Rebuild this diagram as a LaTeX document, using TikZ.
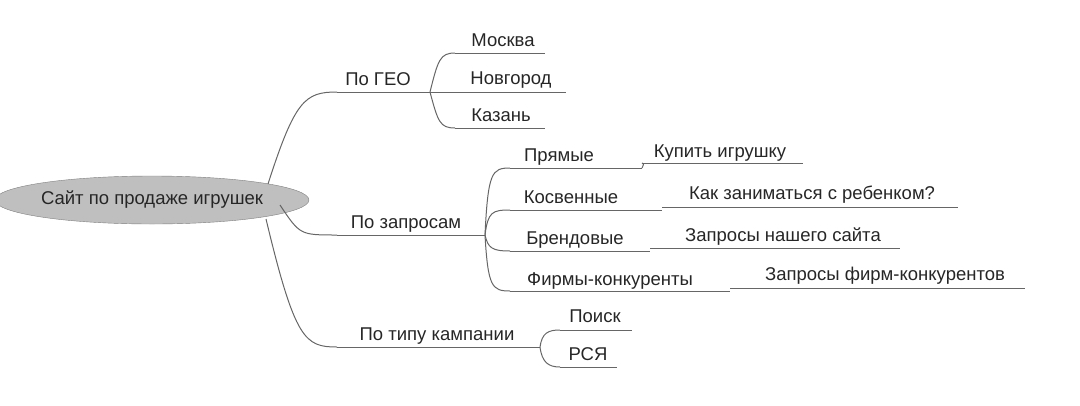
\documentclass[tikz,border=0pt]{standalone}
\usepackage{fontspec}
\setmainfont{Liberation Sans}
\usetikzlibrary{shapes.geometric}
\begin{document}
\begin{tikzpicture}[x=1pt,y=-1pt,
  br/.style={draw=black!60, line width=1pt},
  lb/.style={anchor=base, font=\fontsize{18.5}{21}\selectfont, inner sep=0pt, text=black!85}]
\useasboundingbox (0,0) rectangle (1080,405);
\node[ellipse, draw=black!50, fill=black!25, minimum width=268, minimum height=48, inner sep=0pt, font=\fontsize{18.5}{21}\selectfont, text=black!85] (root) at (152,200) {Сайт по продаже игрушек};
% coordinates
\coordinate (r1) at (268,184);
\coordinate (r2) at (280,205);
\coordinate (r3) at (266,219);
\coordinate (geoS) at (337,92);   \coordinate (geoE) at (430,92);
\coordinate (zapS) at (337,235);  \coordinate (zapE) at (485,235);
\coordinate (typS) at (337,347);  \coordinate (typE) at (540,347);
\coordinate (mosS) at (455,53);   \coordinate (mosE) at (545,53);
\coordinate (novS) at (455,92);   \coordinate (novE) at (566,92);
\coordinate (kazS) at (455,128);  \coordinate (kazE) at (545,128);
\coordinate (prS) at (510,168);  \coordinate (prE) at (642,168);
\coordinate (koS) at (510,210);  \coordinate (koE) at (662,210);
\coordinate (brS) at (510,251);  \coordinate (brE) at (650,251);
\coordinate (fiS) at (510,291);  \coordinate (fiE) at (730,291);
\coordinate (kuS) at (642,163);  \coordinate (kuE) at (803,163);
\coordinate (kkS) at (662,207);  \coordinate (kkE) at (958,207);
\coordinate (zsS) at (650,248);  \coordinate (zsE) at (900,248);
\coordinate (zfS) at (730,288);  \coordinate (zfE) at (1025,288);
\coordinate (poS) at (560,330);  \coordinate (poE) at (632,330);
\coordinate (rsS) at (560,367);  \coordinate (rsE) at (617,367);
% underlines
\foreach \n in {geo,zap,typ,mos,nov,kaz,pr,ko,br,fi,ku,kk,zs,zf,po,rs}
  \draw[br] (\n S) -- (\n E);
% curves
\draw[br] (r1) .. controls (295,100) and (305,92) .. (geoS);
\draw[br] (r2) .. controls (300,235) and (300,235) .. (zapS);
\draw[br] (r3) .. controls (295,340) and (305,347) .. (typS);
\draw[br] (geoE) .. controls (438,60) and (440,53) .. (mosS);
\draw[br] (geoE) -- (novS);
\draw[br] (geoE) .. controls (438,122) and (440,128) .. (kazS);
\draw[br] (zapE) .. controls (488,172) and (492,168) .. (prS);
\draw[br] (zapE) .. controls (488,212) and (492,210) .. (koS);
\draw[br] (zapE) .. controls (488,248) and (492,251) .. (brS);
\draw[br] (zapE) .. controls (488,287) and (492,291) .. (fiS);
\draw[br] (prE) .. controls (644,164) and (644,163) .. (kuS);
\draw[br] (typE) .. controls (542,333) and (548,330) .. (poS);
\draw[br] (typE) .. controls (542,362) and (548,367) .. (rsS);
% labels
\node[lb] (tgeo) at (378,85) {По ГЕО};
\node[lb] (tzap) at (406,228) {По запросам};
\node[lb] (ttyp) at (437,340) {По типу кампании};
\node[lb] (tmos) at (503,46) {Москва};
\node[lb] (tnov) at (511,84) {Новгород};
\node[lb] (tkaz) at (501,121) {Казань};
\node[lb] (tpr) at (559,161) {Прямые};
\node[lb] (tko) at (571,203) {Косвенные};
\node[lb] (tbr) at (575,244) {Брендовые};
\node[lb] (tfi) at (610,285) {Фирмы-конкуренты};
\node[lb] (tku) at (720,157) {Купить игрушку};
\node[lb] (tkk) at (812,199) {Как заниматься с ребенком?};
\node[lb] (tzs) at (783,241) {Запросы нашего сайта};
\node[lb] (tzf) at (885,280) {Запросы фирм-конкурентов};
\node[lb] (tpo) at (595,322) {Поиск};
\node[lb] (trs) at (588,360) {РСЯ};
\end{tikzpicture}
\end{document}
